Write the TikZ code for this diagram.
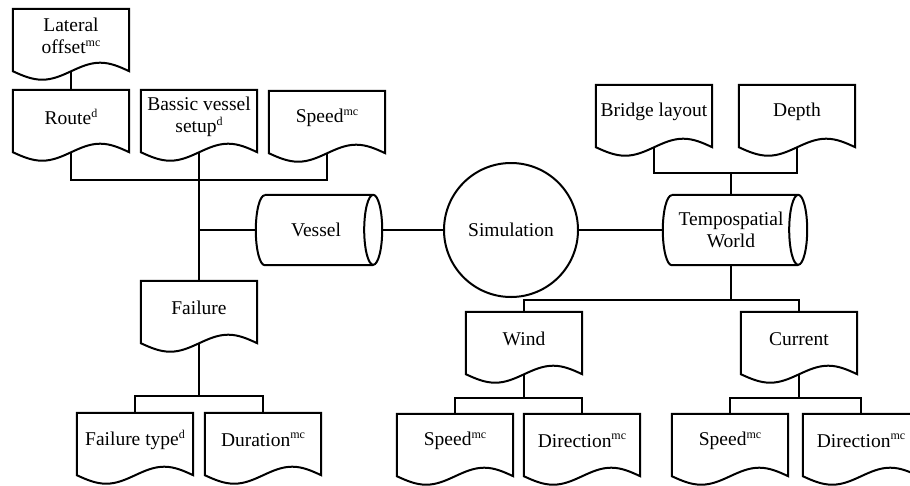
\documentclass[tikz,border=0pt]{standalone}
\usepackage{fontspec}
\setmainfont{Liberation Serif}
\usetikzlibrary{calc}
\newcommand\sps[1]{\raisebox{7.5pt}{\fontsize{12}{12}\selectfont #1}}
\tikzset{
  line/.style={line width=2pt},
  txt/.style={font=\fontsize{19.5}{22.5}\selectfont, align=center, inner sep=0pt},
  doc/.style={txt, minimum width=116pt, minimum height=54pt},
  cyl/.style={inner sep=0pt, minimum height=70pt},
  simnode/.style={txt, draw, circle, line width=2pt, minimum size=134pt},
}
\newcommand\docnode[3]{%
  \node[doc] (#1) at (#2) {#3};
  \draw[line] (#1.north west) -- (#1.north east) -- ($(#1.south east)+(0,8)$)
    sin ($(#1.south east)+(-29,-0.5)$) cos ($(#1.south east)+(-58,8)$)
    sin ($(#1.south east)+(-87,16.5)$) cos ($(#1.south west)+(0,8)$) -- cycle;}
% name, position, width, text offset, text
\newcommand\cylnode[5]{%
  \node[cyl, minimum width=#3] (#1) at (#2) {};
  \node[txt] (#1-t) at ($(#1.center)+(#4,0)$) {#5};
  \draw[line] ($(#1.north west)+(9,0)$) -- ($(#1.north east)+(-9,0)$)
    arc[start angle=90, end angle=-270, x radius=9pt, y radius=35pt]
    ($(#1.south east)+(-9,0)$) -- ($(#1.south west)+(9,0)$)
    arc[start angle=270, end angle=90, x radius=9pt, y radius=35pt];}
\begin{document}
\begin{tikzpicture}[x=1pt,y=-1pt]
\clip (0,0) rectangle (910,485);
\fill[white] (0,0) rectangle (910,485);
% left branch
\docnode{lat}{71,36}{Lateral\\offset\sps{mc}}
\docnode{route}{71,117}{Route\sps{d}}
\docnode{basic}{199,117}{Bassic vessel\\setup\sps{d}}
\docnode{speedv}{327,118}{Speed\sps{mc}}
\docnode{failure}{199,308}{Failure}
\docnode{ftype}{135,440}{Failure type\sps{d}}
\docnode{dur}{263,440}{Duration\sps{mc}}
\cylnode{vessel}{319,230}{126pt}{-3}{Vessel}
\node[simnode] (sim) at (511,230) {Simulation};
\cylnode{tempo}{735,230}{144pt}{-4}{Tempospatial\\World}
% right branch
\docnode{bridge}{654,112}{Bridge layout}
\docnode{depth}{797,112}{Depth}
\docnode{wind}{524,339}{Wind}
\docnode{current}{799,339}{Current}
\docnode{wspeed}{455,441}{Speed\sps{mc}}
\docnode{wdir}{582,441}{Direction\sps{mc}}
\docnode{cspeed}{730,441}{Speed\sps{mc}}
\docnode{cdir}{861,441}{Direction\sps{mc}}
% connectors
\coordinate (j1) at (199,180);
\draw[line] ($(lat.south)+(0,8)$) -- (route.north);
\draw[line] ($(route.south)+(0,8)$) |- (j1) -| ($(speedv.south)+(0,8)$);
\draw[line] ($(basic.south)+(0,8)$) -- (failure.north);
\draw[line] (vessel.west) -- (vessel.west -| basic.south);
\draw[line] (vessel.east) -- (sim.west);
\draw[line] (sim.east) -- (tempo.west);
\coordinate (j2) at (199,396);
\draw[line] ($(failure.south)+(0,8)$) -- (j2);
\draw[line] (ftype.north) |- (j2) -| (dur.north);
\coordinate (j3) at (731,173);
\draw[line] ($(bridge.south)+(0,8)$) |- (j3) -| ($(depth.south)+(0,8)$);
\draw[line] (j3) -- (j3 |- tempo.north);
\coordinate (j4) at (731,300);
\draw[line] (j4 |- tempo.south) -- (j4);
\draw[line] (wind.north) |- (j4) -| (current.north);
\coordinate (j5) at (524,398);
\draw[line] ($(wind.south)+(0,8)$) -- (j5);
\draw[line] (wspeed.north) |- (j5) -| (wdir.north);
\coordinate (j6) at (799,398);
\draw[line] ($(current.south)+(0,8)$) -- (j6);
\draw[line] (cspeed.north) |- (j6) -| (cdir.north);
\end{tikzpicture}
\end{document}
